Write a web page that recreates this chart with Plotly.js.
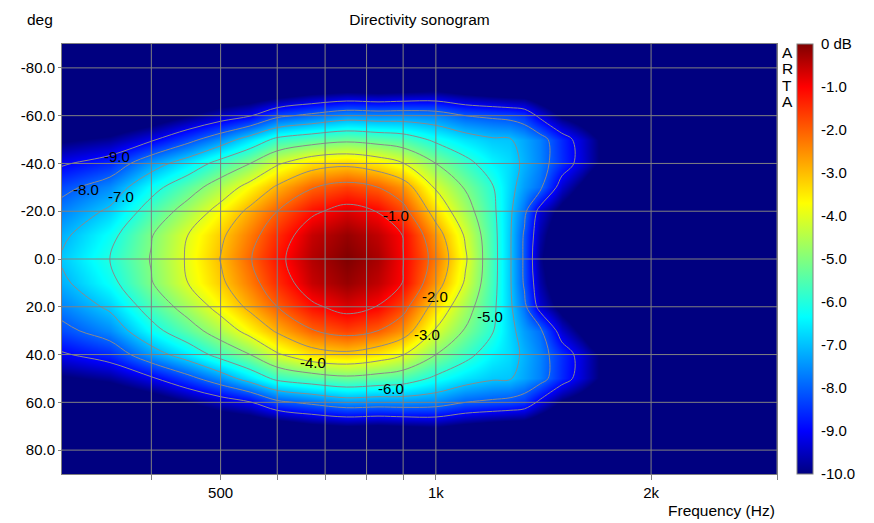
<!DOCTYPE html>
<html>
<head>
<meta charset="utf-8">
<script src="https://cdn.plot.ly/plotly-3.0.1.min.js"></script>
<style>
  body { margin: 0; background: #fff; }
  #chart { width: 874px; height: 523px; }
</style>
</head>
<body>
<div id="chart"></div>
<script>
// frequency columns (Hz) and angle rows (deg)
var freqs = [300, 350, 400, 450, 500, 550, 600, 670, 750, 830, 900, 1000, 1100, 1200, 1270, 1330, 1400, 1500, 1600, 1700, 2000, 3000];
var angles = [-90, -80, -70, -60, -50, -40, -30, -20, -10, 0, 10, 20, 30, 40, 50, 60, 70, 80, 90];

// level in dB, one row per angle
var levels = [
  [-13, -13, -13, -12.8, -12.5, -12.3, -12.2, -12, -12, -12, -12, -12, -12, -12, -12, -12, -12, -12.5, -12.5, -12.5, -13, -13],
  [-12.8, -12.5, -12.5, -12.2, -11.8, -11.7, -11.5, -11.3, -11.3, -11.3, -11.3, -11.2, -11.3, -11.5, -11.5, -11.6, -11.7, -12, -12, -12.2, -12.5, -13],
  [-12.2, -12, -11.8, -11.3, -10.9, -10.8, -10.6, -10.2, -10.0, -10.1, -10.0, -9.9, -10.2, -10.4, -10.5, -10.5, -10.8, -11.2, -11.5, -11.8, -12.2, -13],
  [-11.3, -11, -10.6, -10, -9.47, -9.05, -8.19, -7.8, -7.42, -7.5, -7.47, -7.57, -8.0, -8.15, -8.25, -8.44, -9.2, -10.1, -10.5, -11, -12, -13],
  [-10.1, -9.8, -9.12, -8.27, -7.47, -6.6, -5.8, -5.45, -5.2, -5.37, -5.55, -6.16, -6.61, -6.9, -6.95, -7.26, -7.66, -8.6, -9.35, -10.1, -12, -13],
  [-9.1, -8.6, -7.4, -6.57, -5.68, -5.0, -4.1, -3.4, -3.2, -3.5, -3.97, -5.0, -5.75, -6.42, -6.72, -7.14, -7.62, -8.55, -9.3, -10.1, -12, -13],
  [-8.25, -7.55, -6.3, -5.4, -4.54, -3.67, -2.88, -2.05, -1.68, -2.0, -2.55, -4.09, -5.07, -5.94, -6.77, -7.36, -7.85, -9.4, -10.2, -11.2, -12.2, -13],
  [-7.65, -6.85, -5.6, -4.63, -3.67, -2.8, -2.0, -1.15, -0.72, -1.03, -1.72, -3.36, -4.62, -5.78, -6.87, -7.8, -9.35, -10.3, -10.9, -11.5, -12.3, -13],
  [-7.17, -6.25, -5.05, -4.0, -3.15, -2.3, -1.45, -0.55, -0.18, -0.5, -1.02, -2.61, -4.1, -5.66, -6.92, -8.1, -9.67, -10.8, -11.3, -11.8, -12.5, -13],
  [-6.9, -6.0, -4.95, -3.9, -2.97, -2.05, -1.2, -0.4, 0.0, -0.32, -0.98, -2.3, -3.9, -5.63, -6.92, -8.13, -9.87, -11, -11.5, -12, -12.5, -13],
  [-7.17, -6.25, -5.05, -4.0, -3.15, -2.3, -1.45, -0.55, -0.18, -0.5, -1.02, -2.61, -4.1, -5.66, -6.92, -8.1, -9.67, -10.8, -11.3, -11.8, -12.5, -13],
  [-7.65, -6.85, -5.6, -4.63, -3.67, -2.8, -2.0, -1.15, -0.72, -1.03, -1.72, -3.36, -4.62, -5.78, -6.87, -7.8, -9.35, -10.3, -10.9, -11.5, -12.3, -13],
  [-8.25, -7.55, -6.3, -5.4, -4.54, -3.67, -2.88, -2.05, -1.68, -2.0, -2.55, -4.09, -5.07, -5.94, -6.77, -7.36, -7.85, -9.4, -10.2, -11.2, -12.2, -13],
  [-9.1, -8.6, -7.4, -6.57, -5.68, -5.0, -4.1, -3.4, -3.2, -3.5, -3.97, -5.0, -5.75, -6.42, -6.72, -7.14, -7.62, -8.55, -9.3, -10.1, -12, -13],
  [-10.1, -9.8, -9.12, -8.27, -7.47, -6.6, -5.8, -5.45, -5.2, -5.37, -5.55, -6.16, -6.61, -6.9, -6.95, -7.26, -7.66, -8.6, -9.35, -10.1, -12, -13],
  [-11.3, -11, -10.6, -10, -9.47, -9.05, -8.19, -7.8, -7.42, -7.5, -7.47, -7.57, -8.0, -8.15, -8.25, -8.44, -9.2, -10.1, -10.5, -11, -12, -13],
  [-12.2, -12, -11.8, -11.3, -10.9, -10.8, -10.6, -10.2, -10.0, -10.1, -10.0, -9.9, -10.2, -10.4, -10.5, -10.5, -10.8, -11.2, -11.5, -11.8, -12.2, -13],
  [-12.8, -12.5, -12.5, -12.2, -11.8, -11.7, -11.5, -11.3, -11.3, -11.3, -11.3, -11.2, -11.3, -11.5, -11.5, -11.6, -11.7, -12, -12, -12.2, -12.5, -13],
  [-13, -13, -13, -12.8, -12.5, -12.3, -12.2, -12, -12, -12, -12, -12, -12, -12, -12, -12, -12, -12.5, -12.5, -12.5, -13, -13]
];

// axes ticks / labels
var freqTicks = [400, 500, 600, 700, 800, 900, 1000, 2000, 3000];
var freqLabels = ['', '500', '', '', '', '', '1k', '2k', ''];
var angleTicks = [-80, -60, -40, -20, 0, 20, 40, 60, 80];
var angleLabels = ['-80.0', '-60.0', '-40.0', '-20.0', '0.0', '20.0', '40.0', '60.0', '80.0'];
var dbTicks = [0, -1, -2, -3, -4, -5, -6, -7, -8, -9, -10];
var dbLabels = ['0 dB', '-1.0', '-2.0', '-3.0', '-4.0', '-5.0', '-6.0', '-7.0', '-8.0', '-9.0', '-10.0'];

// contour level labels, where the original puts them
var lblText = ['-9.0', '-8.0', '-7.0', '-1.0', '-2.0', '-5.0', '-3.0', '-4.0', '-6.0'];
var lblFreq = [358, 324, 363, 880, 998, 1192, 972, 673, 866];
var lblAngle = [-42.7, -29.3, -26, -18.4, 15.9, 23.9, 31.4, 43.2, 54];

var font = 'Liberation Sans, Arial, sans-serif';
var gridCol = '#808080';

var jet = [
  [0, '#000080'], [0.1, '#0000ff'], [0.365, '#00ffff'],
  [0.63, '#ffff00'], [0.9, '#ff0000'], [1, '#800000']
];

var heat = {
  type: 'heatmap',
  x: freqs, y: angles, z: levels,
  zmin: -10, zmax: 0,
  zsmooth: 'best',
  colorscale: jet,
  hoverinfo: 'skip',
  colorbar: {
    x: 1.028, xanchor: 'left', xpad: 0,
    y: 0.5, yanchor: 'middle', ypad: 0,
    len: 1, lenmode: 'fraction',
    thickness: 16,
    outlinecolor: gridCol, outlinewidth: 1,
    tickvals: dbTicks, ticktext: dbLabels,
    ticks: 'outside', ticklen: 5, tickcolor: 'rgba(0,0,0,0)',
    tickfont: { family: font, size: 15, color: '#000' }
  }
};

// grid lines drawn above the map
var gx = [], gy = [];
freqTicks.forEach(function (f) { gx.push(f, f, null); gy.push(-90, 90, null); });
angleTicks.forEach(function (a) { gx.push(300, 3000, null); gy.push(a, a, null); });
var grid = {
  type: 'scatter', mode: 'lines',
  x: gx, y: gy,
  line: { color: gridCol, width: 1 },
  hoverinfo: 'skip', showlegend: false
};

var cont = {
  type: 'contour',
  x: freqs, y: angles, z: levels,
  autocontour: false,
  contours: { coloring: 'none', start: -9, end: -1, size: 1, showlabels: false },
  line: { color: '#8a8a8a', width: 1, smoothing: 1 },
  showscale: false,
  hoverinfo: 'skip'
};

var notes = lblText.map(function (t, i) {
  return {
    text: t, xref: 'x', yref: 'y', x: Math.log10(lblFreq[i]), y: lblAngle[i],
    xanchor: 'center', yanchor: 'middle', showarrow: false,
    font: { family: font, size: 15, color: '#000' }
  };
});
var arta = ['A', 'R', 'T', 'A'];
arta.forEach(function (ch, i) {
  notes.push({
    text: ch, xref: 'paper', yref: 'paper', x: 1.014, y: 0.981 - i * 0.0384,
    xanchor: 'center', yanchor: 'middle', showarrow: false,
    font: { family: font, size: 15.5, color: '#000' }
  });
});
notes.push({
  text: 'deg', xref: 'paper', yref: 'paper', x: -0.031, y: 1.056,
  xanchor: 'center', yanchor: 'middle', showarrow: false,
  font: { family: font, size: 15.5, color: '#000' }
});
notes.push({
  text: 'Frequency (Hz)', xref: 'paper', yref: 'paper', x: 1, y: -0.084,
  xanchor: 'right', yanchor: 'middle', showarrow: false,
  font: { family: font, size: 15.5, color: '#000' }
});

var layout = {
  width: 874, height: 523,
  margin: { l: 62, r: 97, t: 44, b: 49, pad: 0 },
  paper_bgcolor: '#fff', plot_bgcolor: '#000080',
  font: { family: font, size: 15, color: '#000' },
  title: {
    text: 'Directivity sonogram', x: 0.5, xref: 'paper',
    y: 1 - 20 / 523, yref: 'container', yanchor: 'middle',
    font: { family: font, size: 15.5, color: '#000' }
  },
  xaxis: {
    type: 'log', range: [Math.log10(300), Math.log10(3000)],
    tickvals: freqTicks, ticktext: freqLabels,
    ticks: 'outside', ticklen: 5, tickcolor: gridCol,
    showgrid: false, zeroline: false,
    showline: true, mirror: true, linecolor: gridCol, linewidth: 1,
    tickfont: { family: font, size: 15, color: '#000' }
  },
  yaxis: {
    range: [90, -90],
    tickvals: angleTicks, ticktext: angleLabels,
    ticks: 'outside', ticklen: 3, tickcolor: gridCol,
    showgrid: false, zeroline: false,
    showline: true, mirror: true, linecolor: gridCol, linewidth: 1,
    tickfont: { family: font, size: 15, color: '#000' }
  },
  showlegend: false,
  hovermode: false,
  annotations: notes
};

Plotly.newPlot('chart', [heat, cont, grid], layout, { displayModeBar: false, staticPlot: true });
</script>
</body>
</html>
